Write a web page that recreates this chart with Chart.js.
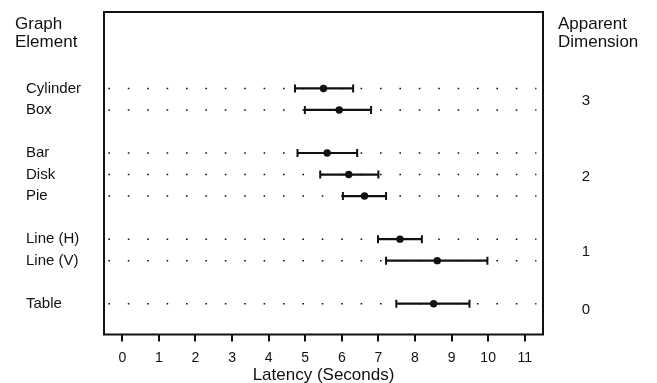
<!DOCTYPE html>
<html>
<head>
<meta charset="utf-8">
<script src="https://cdn.jsdelivr.net/npm/chart.js@4.4.1/dist/chart.umd.min.js"></script>
<style>
  html, body { margin: 0; padding: 0; background: #fff; }
  #wrap { width: 657px; height: 383px; position: relative; }
</style>
</head>
<body>
<div id="wrap"><canvas id="c" width="657" height="383"></canvas></div>
<script>
// ---- data ----
const categories = ["Cylinder", "Box", "Bar", "Disk", "Pie", "Line (H)", "Line (V)", "Table"];
const rowPositions = [0, 1, 3, 4, 5, 7, 8, 10];
const meanLatency = [5.50, 5.93, 5.60, 6.19, 6.62, 7.59, 8.61, 8.51];
const lowLatency  = [4.72, 4.99, 4.79, 5.41, 6.03, 6.99, 7.21, 7.49];
const highLatency = [6.31, 6.80, 6.42, 7.00, 7.21, 8.19, 9.98, 9.49];
const dimensionLabels = ["3", "2", "1", "0"];
const dimensionPositions = [0.6, 4.1, 7.6, 10.3];
const xTickValues = [0, 1, 2, 3, 4, 5, 6, 7, 8, 9, 10, 11];
const dotRowStart = -0.38;
const dotRowEnd = 11.32;

const FONT = '"Liberation Sans", Arial, Helvetica, sans-serif';
const INK = '#111';

const datasets = [];
// mean points (top)
datasets.push({
  type: 'scatter',
  label: 'mean',
  data: meanLatency.map((v, i) => ({ x: v, y: rowPositions[i] })),
  pointRadius: 3.7,
  pointBackgroundColor: INK,
  pointBorderColor: INK,
  pointBorderWidth: 0,
  order: 1
});
// error bars with end caps
categories.forEach((c, i) => {
  datasets.push({
    type: 'line',
    label: c + ' range',
    data: [{ x: lowLatency[i], y: rowPositions[i] }, { x: highLatency[i], y: rowPositions[i] }],
    borderColor: INK,
    borderWidth: 2.2,
    pointStyle: 'line',
    rotation: 90,
    pointRadius: 4,
    pointBorderWidth: 2,
    pointBorderColor: INK,
    pointBackgroundColor: INK,
    order: 2
  });
});
// dotted guide rows
categories.forEach((c, i) => {
  datasets.push({
    type: 'line',
    label: c + ' guide',
    data: [{ x: dotRowStart, y: rowPositions[i] }, { x: dotRowEnd, y: rowPositions[i] }],
    borderColor: INK,
    borderWidth: 1.5,
    borderDash: [1.6, 17.8],
    pointRadius: 0,
    order: 3
  });
});

const framePlugin = {
  id: 'frame',
  afterDraw(chart) {
    const { ctx, chartArea: a } = chart;
    ctx.save();
    ctx.strokeStyle = INK;
    ctx.lineWidth = 2;
    ctx.strokeRect(a.left, a.top, a.right - a.left, a.bottom - a.top);
    ctx.fillStyle = INK;
    ctx.font = '17px ' + FONT;
    ctx.textBaseline = 'alphabetic';
    ctx.textAlign = 'left';
    ctx.fillText('Graph', 15, 28.5);
    ctx.fillText('Element', 15, 47);
    ctx.fillText('Apparent', 558, 28.5);
    ctx.fillText('Dimension', 558, 47);
    ctx.restore();
  }
};

new Chart(document.getElementById('c'), {
  data: { datasets },
  options: {
    responsive: false,
    animation: false,
    events: [],
    layout: { padding: { left: 26, top: 12, right: 67, bottom: 0 } },
    plugins: { legend: { display: false }, tooltip: { enabled: false }, title: { display: false } },
    scales: {
      x: {
        type: 'linear',
        position: 'bottom',
        min: -0.5,
        max: 11.5,
        afterBuildTicks: (axis) => { axis.ticks = xTickValues.map(v => ({ value: v })); },
        afterFit: (axis) => { axis.height = 48.5; },
        grid: { display: true, drawOnChartArea: false, drawTicks: true, tickLength: 7, color: INK, lineWidth: 2 },
        border: { display: false },
        ticks: { color: INK, font: { family: FONT, size: 14 }, padding: 8, maxRotation: 0, autoSkip: false },
        title: { display: true, text: 'Latency (Seconds)', color: INK, font: { family: FONT, size: 17 }, padding: { top: 0, bottom: -3 } }
      },
      y: {
        type: 'linear',
        position: 'left',
        reverse: true,
        min: -3.55,
        max: 11.43,
        afterBuildTicks: (axis) => { axis.ticks = rowPositions.map(v => ({ value: v })); },
        afterFit: (axis) => { axis.width = 78; },
        grid: { display: false, drawTicks: false },
        border: { display: false },
        ticks: {
          color: INK, font: { family: FONT, size: 15 }, crossAlign: 'far', autoSkip: false, padding: 3,
          callback: (v) => { const k = rowPositions.indexOf(v); return k >= 0 ? categories[k] : ''; }
        }
      },
      y2: {
        type: 'linear',
        position: 'right',
        reverse: true,
        min: -3.55,
        max: 11.43,
        afterBuildTicks: (axis) => { axis.ticks = dimensionPositions.map(v => ({ value: v })); },
        afterFit: (axis) => { axis.width = 47; },
        grid: { display: false, drawTicks: false },
        border: { display: false },
        ticks: {
          color: INK, font: { family: FONT, size: 15 }, crossAlign: 'far', padding: 3, autoSkip: false,
          callback: (v) => { const k = dimensionPositions.indexOf(v); return k >= 0 ? dimensionLabels[k] : ''; }
        }
      }
    }
  },
  plugins: [framePlugin]
});
</script>
</body>
</html>
